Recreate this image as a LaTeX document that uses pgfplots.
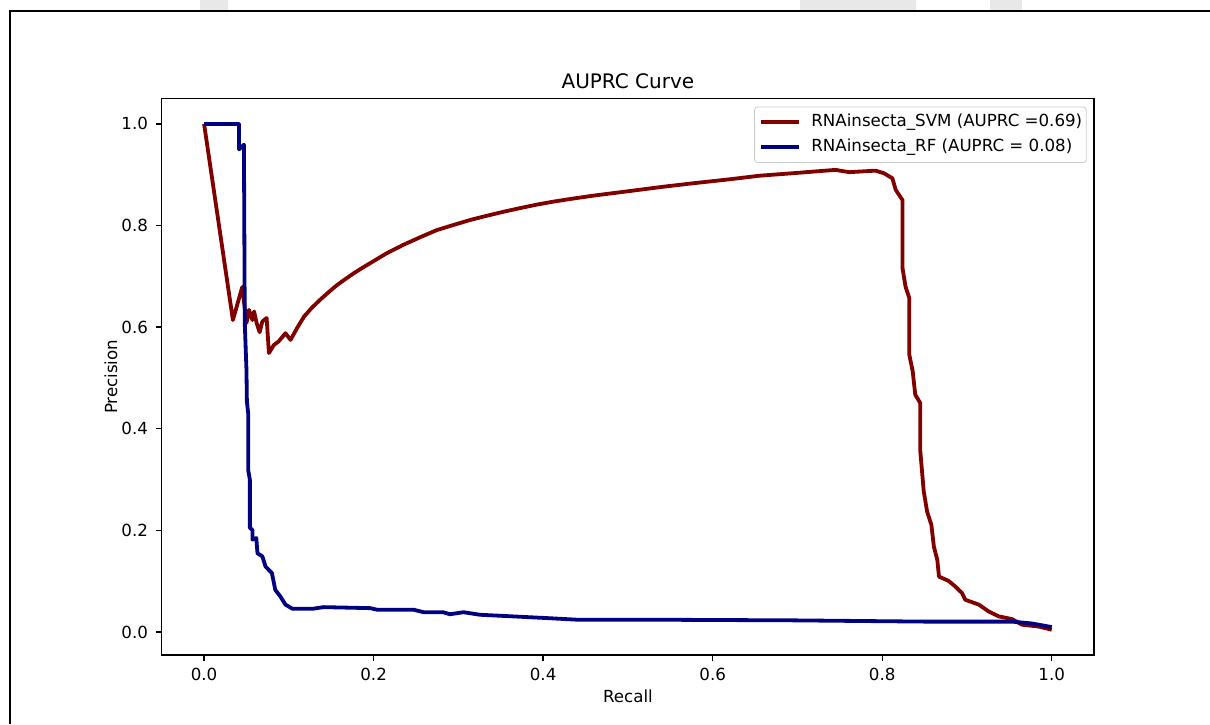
\documentclass[border=0pt]{standalone}
\usepackage{fontspec}
\setmainfont{DejaVu Sans}
\usepackage{pgfplots}
\pgfplotsset{compat=1.18}

\definecolor{svmred}{HTML}{800000}
\definecolor{rfblue}{HTML}{000080}
\definecolor{wmgray}{HTML}{E8E8E8}
\newcommand\tickfont{\fontsize{8.33}{10}\selectfont}

\begin{document}
\begin{tikzpicture}
\useasboundingbox (0,0) rectangle (605pt,362pt);
\fill[white] (0,0) rectangle (605pt,362pt);
% faint marks at the top edge and the page frame
\fill[wmgray] (100pt,357pt) rectangle (114pt,362pt);
\fill[wmgray] (400pt,357pt) rectangle (458pt,362pt);
\fill[wmgray] (495pt,357pt) rectangle (511pt,362pt);
\draw[line width=1pt] (5pt,0) -- (5pt,356.5pt) -- (605pt,356.5pt);

\begin{axis}[%
at={(80.85pt,34.5pt)}, anchor=south west,
scale only axis,
width=466.2pt,
height=278.2pt,
xmin=-0.05, xmax=1.05,
ymin=-0.0452, ymax=1.0498,
xtick={0,0.2,0.4,0.6,0.8,1},
xticklabels={0.0,0.2,0.4,0.6,0.8,1.0},
ytick={0,0.2,0.4,0.6,0.8,1},
yticklabels={0.0,0.2,0.4,0.6,0.8,1.0},
tick pos=left,
tick align=outside,
major tick length=2.9pt,
every tick/.style={black, line width=0.67pt},
axis line style={line width=0.67pt},
/pgf/number format/assume math mode=true,
xticklabel style={font=\tickfont, anchor=base, inner sep=0pt, yshift=-9.6pt},
yticklabel style={font=\tickfont, anchor=east, inner sep=0pt, xshift=-3.8pt},
title={AUPRC Curve},
every axis title/.style={font=\fontsize{10}{12}\selectfont, at={(axis description cs:0.5,1.018)}, anchor=base},
xlabel={Recall},
every axis x label/.style={font=\tickfont, at={(axis description cs:0.5,-0.0845)}, anchor=base},
ylabel={Precision},
every axis y label/.style={font=\tickfont, at={(axis description cs:-0.0479,0.5)}, rotate=90, anchor=base},
legend style={at={(axis description cs:1,1)}, anchor=north east, xshift=-3.75pt, yshift=-4pt,
  font=\tickfont, draw=black!20, rounded corners=1.5pt, inner xsep=2pt, inner ysep=3pt,
  row sep=3.2pt, nodes={inner sep=0pt, text height=7pt, text depth=2.3pt}},
legend cell align=left,
legend image code/.code={\draw[#1] (0pt,0pt) -- (19.2pt,0pt); \path (24.5pt,0pt);},
]
\addplot [color=svmred, line width=1.9pt, line join=round]
  table[row sep=crcr]
  {%
0	1.0\\
0.034	0.614\\
0.045	0.679\\
0.050	0.608\\
0.053	0.634\\
0.057	0.614\\
0.059	0.631\\
0.062	0.608\\
0.0655	0.590\\
0.0687	0.611\\
0.0738	0.618\\
0.0765	0.549\\
0.0824	0.565\\
0.088	0.572\\
0.096	0.588\\
0.102	0.575\\
0.110	0.599\\
0.118	0.621\\
0.127	0.638\\
0.137	0.654\\
0.147	0.669\\
0.157	0.683\\
0.167	0.695\\
0.1765	0.706\\
0.186	0.716\\
0.196	0.726\\
0.215	0.745\\
0.235	0.762\\
0.255	0.777\\
0.2745	0.791\\
0.294	0.801\\
0.314	0.811\\
0.333	0.819\\
0.353	0.827\\
0.372	0.834\\
0.392	0.841\\
0.412	0.847\\
0.431	0.852\\
0.460	0.859\\
0.498	0.867\\
0.540	0.876\\
0.576	0.883\\
0.620	0.891\\
0.655	0.898\\
0.695	0.903\\
0.733	0.908\\
0.745	0.9095\\
0.761	0.905\\
0.792	0.908\\
0.802	0.903\\
0.812	0.893\\
0.816	0.870\\
0.824	0.850\\
0.824	0.716\\
0.8275	0.680\\
0.832	0.657\\
0.832	0.5455\\
0.836	0.513\\
0.839	0.467\\
0.845	0.4505\\
0.845	0.355\\
0.849	0.277\\
0.853	0.237\\
0.858	0.211\\
0.861	0.168\\
0.865	0.142\\
0.867	0.109\\
0.878	0.101\\
0.886	0.090\\
0.894	0.077\\
0.898	0.0635\\
0.914	0.054\\
0.9255	0.0406\\
0.937	0.031\\
0.953	0.0256\\
0.965	0.0144\\
0.984	0.011\\
1.0	0.0045\\
};
\addlegendentry{RNAinsecta\_SVM (AUPRC =0.69)}
\addplot [color=rfblue, line width=1.9pt, line join=round]
  table[row sep=crcr]
  {%
0	1.0\\
0.0412	1.0\\
0.0412	0.950\\
0.047	0.959\\
0.048	0.608\\
0.050	0.516\\
0.0505	0.454\\
0.052	0.431\\
0.052	0.319\\
0.054	0.300\\
0.054	0.205\\
0.057	0.201\\
0.057	0.182\\
0.0616	0.185\\
0.063	0.155\\
0.0687	0.149\\
0.0725	0.129\\
0.080	0.116\\
0.084	0.083\\
0.090	0.070\\
0.096	0.054\\
0.104	0.046\\
0.129	0.046\\
0.141	0.049\\
0.169	0.048\\
0.196	0.047\\
0.204	0.044\\
0.247	0.044\\
0.259	0.039\\
0.282	0.039\\
0.290	0.035\\
0.306	0.039\\
0.3255	0.034\\
0.404	0.0275\\
0.443	0.024\\
0.561	0.024\\
0.694	0.023\\
0.851	0.0205\\
0.953	0.0205\\
0.976	0.017\\
1.0	0.0098\\
};
\addlegendentry{RNAinsecta\_RF (AUPRC = 0.08)}
\end{axis}
\end{tikzpicture}
\end{document}
